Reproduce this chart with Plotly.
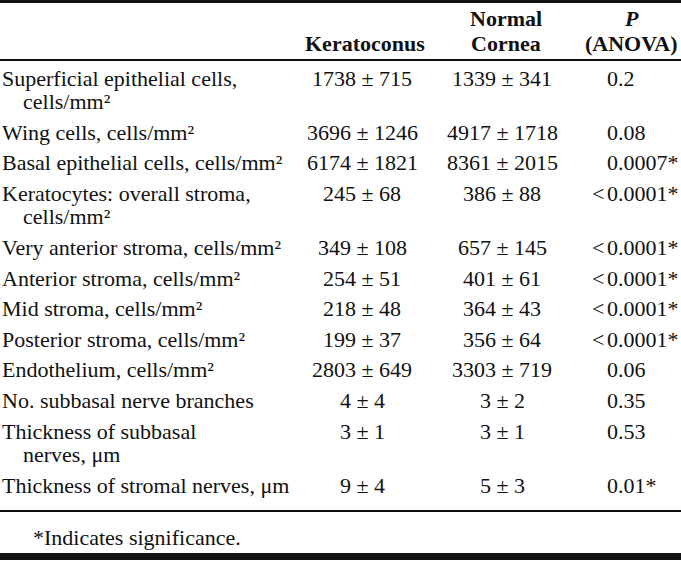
import plotly.graph_objects as go

# ---- data ----
row_labels = [
    ["Superficial epithelial cells,", "cells/mm²"],
    ["Wing cells, cells/mm²"],
    ["Basal epithelial cells, cells/mm²"],
    ["Keratocytes: overall stroma,", "cells/mm²"],
    ["Very anterior stroma, cells/mm²"],
    ["Anterior stroma, cells/mm²"],
    ["Mid stroma, cells/mm²"],
    ["Posterior stroma, cells/mm²"],
    ["Endothelium, cells/mm²"],
    ["No. subbasal nerve branches"],
    ["Thickness of subbasal", "nerves, μm"],
    ["Thickness of stromal nerves, μm"],
]
kc_mean = [1738, 3696, 6174, 245, 349, 254, 218, 199, 2803, 4, 3, 9]
kc_sd = [715, 1246, 1821, 68, 108, 51, 48, 37, 649, 4, 1, 4]
nc_mean = [1339, 4917, 8361, 386, 657, 401, 364, 356, 3303, 3, 3, 5]
nc_sd = [341, 1718, 2015, 88, 145, 61, 43, 64, 719, 2, 1, 3]
p_values = ["0.2", "0.08", "0.0007*", "<0.0001*", "<0.0001*", "<0.0001*",
            "<0.0001*", "<0.0001*", "0.06", "0.35", "0.53", "0.01*"]
col_headers = [["", "Keratoconus"], ["Normal", "Cornea"], ["<i>P</i>", "(ANOVA)"]]
footnote = "*Indicates significance."

# ---- layout constants ----
W, H = 681, 562
FONT = "Liberation Serif, Times New Roman, serif"
FS = 22
col_x = [362, 502, 607]
head_x = [365, 506, 631]
head_y = [18, 43]
body_start = 78
wrap_pitch = 23.5
row_pitch = 30.6
indent = 21

ann = []
def add(x, y, text, xanchor="left", bold=False):
    if bold:
        text = "<b>" + text + "</b>"
    ann.append(dict(x=x, y=y, xref="x", yref="y", text=text, showarrow=False,
                    xanchor=xanchor, yanchor="middle", borderpad=0, borderwidth=0,
                    font=dict(family=FONT, size=FS, color="#111")))

for ci, hdr in enumerate(col_headers):
    for li, t in enumerate(hdr):
        if t:
            add(head_x[ci], head_y[li], t, "center", bold=True)

y = body_start
for i, lines in enumerate(row_labels):
    for li, t in enumerate(lines):
        add(2 + (indent if li > 0 else 0), y + li * wrap_pitch, t)
    add(col_x[0], y, f"{kc_mean[i]} ± {kc_sd[i]}", "center")
    add(col_x[1], y, f"{nc_mean[i]} ± {nc_sd[i]}", "center")
    pv = p_values[i]
    if pv.startswith("<"):
        add(col_x[2] - 3, y, "&lt;", "right")
        pv = pv[1:]
    add(col_x[2], y, pv, "left")
    y += (len(lines) - 1) * wrap_pitch + row_pitch
last_y = y - row_pitch

rule_y = last_y + 26
add(33, rule_y + 26, footnote)

shapes = [
    dict(type="rect", xref="x", yref="y", x0=0, x1=W, y0=0, y1=3, fillcolor="#111", line_width=0),
    dict(type="line", xref="x", yref="y", x0=0, x1=W, y0=60, y1=60, line=dict(color="#111", width=2)),
    dict(type="line", xref="x", yref="y", x0=0, x1=W, y0=rule_y, y1=rule_y, line=dict(color="#111", width=2)),
    dict(type="rect", xref="x", yref="y", x0=0, x1=W, y0=553, y1=560, fillcolor="#111", line_width=0),
]

fig = go.Figure()
fig.add_trace(go.Scatter(x=[], y=[]))
fig.update_layout(
    width=W, height=H, margin=dict(l=0, r=0, t=0, b=0),
    paper_bgcolor="white", plot_bgcolor="white",
    xaxis=dict(range=[0, W], visible=False, fixedrange=True),
    yaxis=dict(range=[H, 0], visible=False, fixedrange=True),
    annotations=ann, shapes=shapes, showlegend=False,
)
fig.write_html("out.html", config={"displayModeBar": False},
               post_script="document.body.style.margin='0';document.body.style.padding='0';document.body.style.overflow='hidden';")
